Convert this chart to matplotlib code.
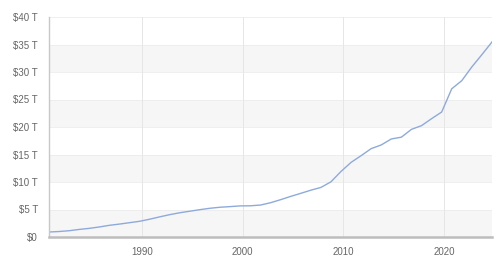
import numpy as np
import matplotlib
matplotlib.use("Agg")
import matplotlib.pyplot as plt
from matplotlib.ticker import FuncFormatter

plt.rcParams["font.family"] = ["Liberation Sans", "DejaVu Sans"]

# fiscal year ends (Sept 30) and total debt in trillions of dollars
years = np.arange(1980, 2025) + 0.75
debt = [0.908, 0.998, 1.142, 1.377, 1.572, 1.823, 2.125, 2.350, 2.602, 2.857,
        3.233, 3.665, 4.065, 4.411, 4.693, 4.974, 5.225, 5.413, 5.526, 5.656,
        5.674, 5.807, 6.228, 6.783, 7.379, 7.933, 8.507, 9.008, 10.025, 11.910,
        13.562, 14.790, 16.066, 16.738, 17.824, 18.151, 19.573, 20.245, 21.516, 22.719,
        26.945, 28.429, 30.929, 33.167, 35.464]
x_ticks = [1990, 2000, 2010, 2020]
y_ticks = [0, 5, 10, 15, 20, 25, 30, 35, 40]

fig = plt.figure(figsize=(5.04, 2.58), dpi=100)
ax = fig.add_axes([49 / 504, 21 / 258, 443 / 504, 220 / 258])

# alternating horizontal bands
for lo in y_ticks[:-1:2]:
    ax.axhspan(lo, lo + 5, color="#f6f6f6", zorder=0, lw=0)
for y in y_ticks[1:]:
    ax.axhline(y, color="#ececec", lw=0.6, zorder=1)
for x in x_ticks:
    ax.axvline(x, color="#e6e6e6", lw=0.7, zorder=1)

ax.plot(years, debt, color="#8eaadb", lw=1.0, zorder=3)

ax.set_xlim(years[0], years[-1])
ax.set_ylim(0, 40)
ax.set_xticks(x_ticks)
ax.set_yticks(y_ticks)
ax.yaxis.set_major_formatter(FuncFormatter(lambda v, p: "$0" if v == 0 else f"${v:.0f} T"))
ax.tick_params(length=0, labelsize=7, colors="#666666", pad=8)
ax.tick_params(axis="x", pad=7)

for s in ["top", "right"]:
    ax.spines[s].set_visible(False)
ax.spines["left"].set_color("#c8c8c8")
ax.spines["left"].set_linewidth(1.0)
ax.spines["bottom"].set_color("#bdbdbd")
ax.spines["bottom"].set_linewidth(1.8)
ax.spines["left"].set_zorder(4)
ax.spines["bottom"].set_zorder(4)

fig.savefig("out.png", dpi=100)
